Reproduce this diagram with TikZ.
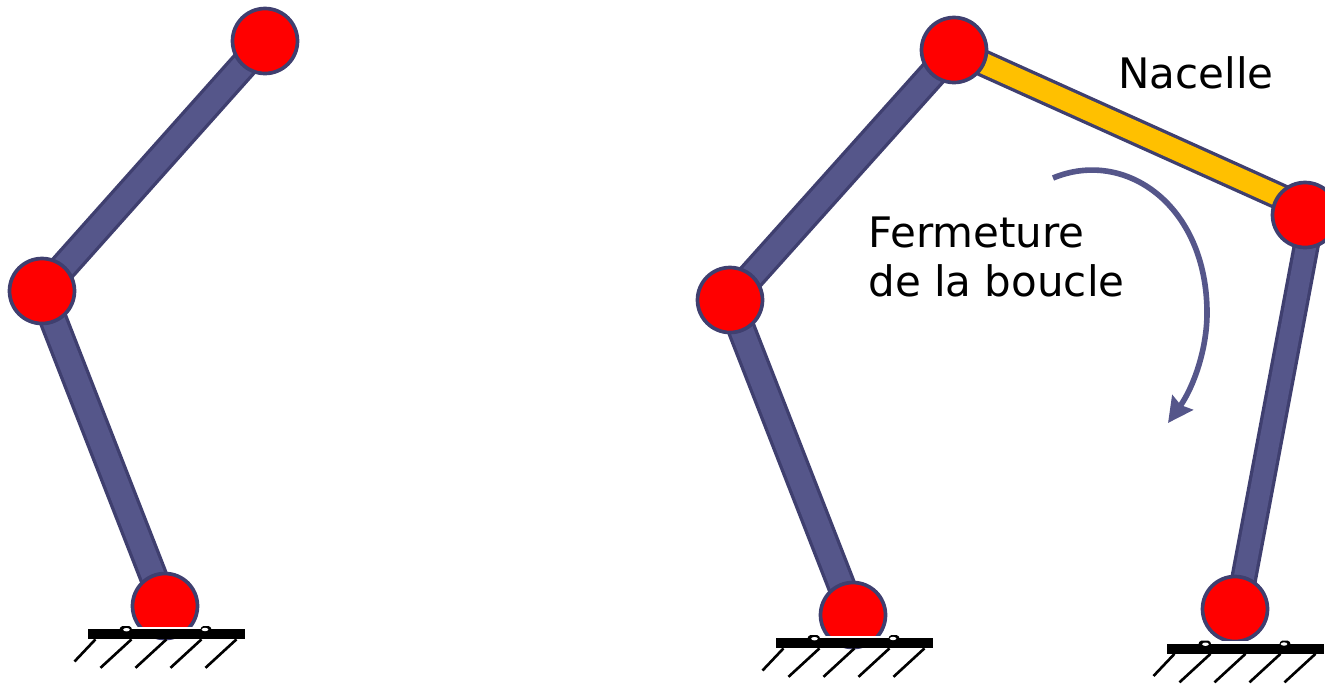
\documentclass[tikz,border=0pt]{standalone}
\usepackage{fontspec}
\setmainfont{DejaVu Sans}
\usetikzlibrary{arrows.meta,backgrounds}
\definecolor{linkblue}{HTML}{55568A}
\definecolor{edgeblue}{HTML}{3F3F6F}
\definecolor{nacelle}{HTML}{FFC000}
\tikzstyle{joint} = [draw=edgeblue, fill=red, circle, line width=2.1pt, minimum size=1.3cm, inner sep=0pt]
\tikzstyle{link} = [draw=edgeblue, line width=1.9pt, double=linkblue, double distance=13pt]
\tikzstyle{label} = [anchor=west, font=\fontsize{23.9pt}{28.3pt}\selectfont, align=left, inner sep=0pt]
\tikzset{ground/.pic={
    \fill [white] (-34,-8) rectangle (34,-5);
    \fill [black] (-78.5,-5.2) rectangle (78.5,4.8);
    \fill [black, rounded corners=0.8pt] (-47.5,-4) -- (-45.5,-8.5) -- (-36,-8.5) -- (-34,-4) -- cycle;
    \fill [black, rounded corners=0.8pt] (33.5,-4) -- (35.5,-8.5) -- (43.5,-8.5) -- (45.5,-4) -- cycle;
    \fill [white] (-40,-4.8) ellipse (3.3 and 1.7);
    \fill [white] (38.5,-5) ellipse (3.3 and 1.7);
    \draw [black, line width=1.5pt] (-71,4.8) -- (-92,27);
    \foreach \x in {-35,0,35,70}
        \draw [black, line width=1.5pt] (\x,4.8) -- ++(-31,28.5);
}}

\begin{document}
\begin{tikzpicture}[x=0.02cm, y=-0.02cm, >={Stealth[length=0.5cm, width=0.5cm, inset=0.06cm]}]
    \useasboundingbox (0,0) rectangle (1325,684);
    % Open chain
    \node [joint] (A0) at (165,606) {};
    \node [joint] (A1) at (42,291) {};
    \node [joint] (A2) at (265,41) {};
    % Closed chain
    \node [joint] (B0) at (853,615) {};
    \node [joint] (B1) at (730,300) {};
    \node [joint] (B2) at (954,50) {};
    \node [joint] (B3) at (1305,215) {};
    \node [joint] (B4) at (1235,609) {};
    % The two last bars do not aim at the centres
    \coordinate (N3) at (1305,208);
    \coordinate (R3) at (1312,215);
    \coordinate (R4) at (1238,609);

    % Bars
    \begin{pgfonlayer}{background}
        \draw [link] (A0.center) -- (A1.center);
        \draw [link] (A1.center) -- (A2.center);
        \draw [link] (B0.center) -- (B1.center);
        \draw [link] (B1.center) -- (B2.center);
        \draw [link, double=nacelle, double distance=11.8pt] (B2.center) -- (N3);
        \draw [link, double distance=11.5pt] (R3) -- (R4);
    \end{pgfonlayer}

    % Frames
    \pic (GA) at (166.5,634.5) {ground};
    \pic (GB) at (854.5,643.5) {ground};
    \pic (GC) at (1245.5,649) {ground};

    % Labels
    \node [label] (nac) at (1118,73) {Nacelle};
    \node [label] (ferm) at (868,257) {Fermeture\\de la boucle};

    % Closing arrow
    \coordinate (start) at (1053,178);
    \coordinate (mid) at (1207,313);
    \coordinate (tip) at (1168,423);
    \draw [->, linkblue, line width=3.2pt] (start) .. controls (1125,148) and (1207,205) .. (mid)
        .. controls (1207,350) and (1193,388) .. (tip);
\end{tikzpicture}
\end{document}
